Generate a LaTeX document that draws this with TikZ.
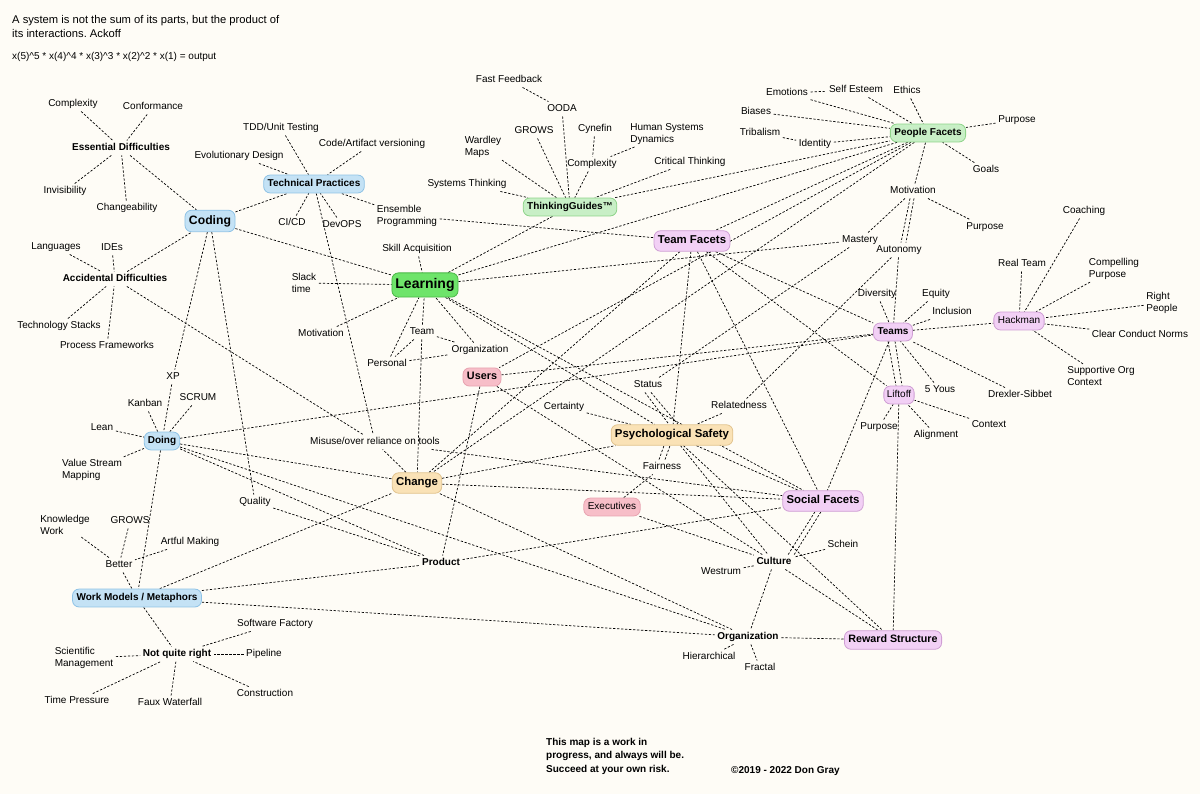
\documentclass[tikz,border=0pt]{standalone}
\usepackage{fontspec}
\setmainfont{Liberation Sans}
\frenchspacing
\definecolor{bgc}{RGB}{254,252,246}
\definecolor{bfill}{RGB}{196,226,245}
\definecolor{bdraw}{RGB}{143,195,230}
\definecolor{gfill}{RGB}{200,239,198}
\definecolor{gdraw}{RGB}{143,212,138}
\definecolor{lfill}{RGB}{110,228,106}
\definecolor{ldraw}{RGB}{75,184,71}
\definecolor{pfill}{RGB}{242,208,245}
\definecolor{pdraw}{RGB}{207,158,212}
\definecolor{rfill}{RGB}{247,190,200}
\definecolor{rdraw}{RGB}{232,163,176}
\definecolor{yfill}{RGB}{250,226,182}
\definecolor{ydraw}{RGB}{226,196,143}
\pgfdeclarelayer{edges}
\pgfdeclarelayer{background}
\pgfsetlayers{background,edges,main}
\begin{document}
\begin{tikzpicture}[x=1pt,y=-1pt,
  lbl/.style={font=\fontsize{10}{11.5}\selectfont, inner sep=2.5pt, align=left, text height=7.4pt, text depth=2.1pt},
  ml/.style={text height=, text depth=},
  blbl/.style={lbl, font=\fontsize{10}{11.5}\selectfont\bfseries},
  box/.style={rounded corners=6.5pt, line width=0.8pt, inner xsep=4pt, inner ysep=4.2pt, text height=7.4pt, text depth=2.1pt, font=\fontsize{10}{11.5}\selectfont\bfseries},
  big/.style={font=\fontsize{11.4}{13}\selectfont\bfseries, inner ysep=4.8pt, inner xsep=3.8pt, text height=8.4pt, text depth=2.5pt},
  bluebox/.style={box, fill=bfill, draw=bdraw},
  greenbox/.style={box, fill=gfill, draw=gdraw},
  pinkbox/.style={box, fill=pfill, draw=pdraw},
  redbox/.style={box, fill=rfill, draw=rdraw},
  yelbox/.style={box, fill=yfill, draw=ydraw},
  reg/.style={font=\fontsize{10}{11.5}\selectfont},
  ed/.style={draw=black, line width=0.7pt, dash pattern=on 2.3pt off 1.7pt}
]
\begin{pgfonlayer}{background}
\fill[bgc] (0,0) rectangle (1200,794);
\end{pgfonlayer}
\useasboundingbox (0,0) rectangle (1200,794);

% header and footer
\node[lbl, ml, anchor=north west, inner sep=0pt, font=\fontsize{11.2}{13.5}\selectfont] (hdr) at (12,15.5) {A system is not the sum of its parts, but the product of\\its interactions. Ackoff};
\node[lbl, anchor=west, inner sep=0pt] (formula) at (12,57) {x(5)\textasciicircum5 * x(4)\textasciicircum4 * x(3)\textasciicircum3 * x(2)\textasciicircum2 * x(1) = output};
\node[lbl, ml, anchor=north west, inner sep=0pt, font=\fontsize{10}{13.5}\selectfont\bfseries] (foot) at (546,738) {This map is a work in\\progress, and always will be.\\Succeed at your own risk.};
\node[blbl, anchor=west, inner sep=0pt] (copy) at (731,771) {©2019 - 2022 Don Gray};

% Coding cluster
\node[lbl] (cxa) at (73,104) {Complexity};
\node[lbl] (conf) at (153,107) {Conformance};
\node[blbl] (ess) at (121,148) {Essential Difficulties};
\node[lbl] (invis) at (65,191) {Invisibility};
\node[lbl] (chg) at (127,208) {Changeability};
\node[bluebox, font=\fontsize{12.2}{14}\selectfont\bfseries, inner ysep=5pt, text height=8.9pt, text depth=2.6pt] (coding) at (210,221) {Coding};
\node[lbl] (lang) at (56,247) {Languages};
\node[lbl] (ides) at (112,248) {IDEs};
\node[blbl] (acc) at (115,279) {Accidental Difficulties};
\node[lbl] (techst) at (59,326) {Technology Stacks};
\node[lbl] (procfw) at (107,346) {Process Frameworks};
\node[lbl] (tdd) at (281,128) {TDD/Unit Testing};
\node[lbl] (cav) at (372,144) {Code/Artifact versioning};
\node[lbl] (evo) at (239,156) {Evolutionary Design};
\node[bluebox] (tp) at (314,184) {Technical Practices};
\node[lbl] (cicd) at (292,223) {CI/CD};
\node[lbl] (devops) at (342,225) {DevOPS};
\node[lbl, ml] (ens) at (407,216) {Ensemble\\Programming};

% Learning cluster
\node[lbl] (skill) at (417,249) {Skill Acquisition};
\node[lbl, ml] (slack) at (304,283) {Slack\\time};
\node[box, fill=lfill, draw=ldraw, font=\fontsize{14}{16}\selectfont\bfseries, inner ysep=5.5pt, inner xsep=3.5pt, text height=10.2pt, text depth=3pt] (learning) at (425,285) {Learning};
\node[lbl] (motA) at (321,334) {Motivation};
\node[lbl] (team) at (422,332) {Team};
\node[lbl] (orgA) at (480,350) {Organization};
\node[lbl] (personal) at (387,364) {Personal};
\node[redbox, font=\fontsize{10.8}{12.5}\selectfont\bfseries, inner ysep=4.3pt] (users) at (482,377) {Users};

% Thinking guides
\node[lbl] (ff) at (509,80) {Fast Feedback};
\node[lbl] (ooda) at (562,109) {OODA};
\node[lbl] (growsA) at (534,131) {GROWS};
\node[lbl] (cyn) at (595,129) {Cynefin};
\node[lbl, ml] (hsd) at (667,134) {Human Systems\\Dynamics};
\node[lbl, ml] (wardley) at (483,147) {Wardley\\Maps};
\node[lbl] (cxb) at (592,164) {Complexity};
\node[lbl] (crit) at (690,162) {Critical Thinking};
\node[lbl] (systh) at (467,184) {Systems Thinking};
\node[greenbox] (tg) at (570,207) {ThinkingGuides™};
\node[pinkbox, big] (tf) at (692,241) {Team Facets};

% People facets
\node[lbl] (emo) at (787,93) {Emotions};
\node[lbl] (selfe) at (856,90) {Self Esteem};
\node[lbl] (ethics) at (907,91) {Ethics};
\node[lbl] (biases) at (756,112) {Biases};
\node[lbl] (trib) at (760,133) {Tribalism};
\node[lbl] (ident) at (815,144) {Identity};
\node[greenbox] (pf) at (928,133) {People Facets};
\node[lbl] (purA) at (1017,120) {Purpose};
\node[lbl] (goals) at (986,170) {Goals};
\node[lbl] (motB) at (913,191) {Motivation};
\node[lbl] (purB) at (985,227) {Purpose};
\node[lbl] (mastery) at (860,240) {Mastery};
\node[lbl] (auto) at (899,250) {Autonomy};

% Hackman / Teams
\node[lbl] (coach) at (1084,211) {Coaching};
\node[lbl] (realt) at (1022,264) {Real Team};
\node[lbl, ml] (compel) at (1114,269) {Compelling\\Purpose};
\node[lbl, ml] (rightp) at (1162,303) {Right\\People};
\node[lbl] (divers) at (877,294) {Diversity};
\node[lbl] (equity) at (936,294) {Equity};
\node[lbl] (incl) at (952,312) {Inclusion};
\node[pinkbox] (teams) at (893,332) {Teams};
\node[pinkbox, reg] (hack) at (1019,321) {Hackman};
\node[lbl] (clear) at (1140,335) {Clear Conduct Norms};
\node[lbl, ml] (supp) at (1101,376) {Supportive Org\\Context};
\node[lbl] (yous) at (940,390) {5 Yous};
\node[lbl] (dx) at (1020,395) {Drexler-Sibbet};
\node[pinkbox, reg, inner xsep=3pt] (liftoff) at (899,395) {Liftoff};
\node[lbl] (purC) at (879,427) {Purpose};
\node[lbl] (align) at (936,435) {Alignment};
\node[lbl] (context) at (989,425) {Context};

% Doing
\node[lbl] (xp) at (173,377) {XP};
\node[lbl] (kanban) at (145,404) {Kanban};
\node[lbl] (scrum) at (198,398) {SCRUM};
\node[lbl] (lean) at (102,428) {Lean};
\node[bluebox, inner xsep=3.5pt] (doing) at (162,441) {Doing};
\node[lbl, ml] (vsm) at (92,470) {Value Stream\\Mapping};

% Psychological safety area
\node[lbl] (status) at (648,385) {Status};
\node[lbl] (relat) at (739,406) {Relatedness};
\node[lbl] (cert) at (564,407) {Certainty};
\node[yelbox, big] (ps) at (672,435) {Psychological Safety};
\node[lbl] (misuse) at (375,442) {Misuse/over reliance on tools};
\node[lbl] (fair) at (662,467) {Fairness};
\node[yelbox, big] (change) at (417,483) {Change};
\node[redbox, reg] (exec) at (612,507) {Executives};
\node[pinkbox, big] (sf) at (823,501) {Social Facets};
\node[lbl] (quality) at (255,502) {Quality};

% bottom left
\node[lbl, ml] (kw) at (65,525) {Knowledge\\Work};
\node[lbl] (growsB) at (130,521) {GROWS};
\node[lbl] (artful) at (190,542) {Artful Making};
\node[lbl] (better) at (119,565) {Better};
\node[blbl] (product) at (441,563) {Product};
\node[lbl] (schein) at (843,545) {Schein};
\node[blbl] (culture) at (774,562) {Culture};
\node[lbl] (westrum) at (721,572) {Westrum};
\node[bluebox] (wm) at (137,598) {Work Models / Metaphors};
\node[lbl] (sfac) at (275,624) {Software Factory};
\node[lbl, ml] (sci) at (84,658) {Scientific\\Management};
\node[blbl] (nqr) at (177,654) {Not quite right};
\node[lbl] (pipe) at (264,654) {Pipeline};
\node[blbl] (orgB) at (748,637) {Organization};
\node[pinkbox, font=\fontsize{10.7}{12.5}\selectfont\bfseries, inner ysep=4.5pt] (reward) at (893,640) {Reward Structure};
\node[lbl] (hier) at (709,657) {Hierarchical};
\node[lbl] (fractal) at (760,668) {Fractal};
\node[lbl] (timep) at (77,701) {Time Pressure};
\node[lbl] (faux) at (170,703) {Faux Waterfall};
\node[lbl] (constr) at (265,694) {Construction};

\begin{pgfonlayer}{edges}
% coding
\foreach \a in {cxa,conf,invis,chg} \draw[ed] (\a) -- (ess);
\draw[ed] (ess) -- (coding);
\foreach \a in {lang,ides,techst,procfw} \draw[ed] (\a) -- (acc);
\draw[ed] (acc) -- (coding);
\draw[ed] (acc) -- (misuse);
\draw[ed] (coding) -- (tp);
\draw[ed] (coding) -- (learning);
\draw[ed] (coding) -- (xp);
\draw[ed] (coding) -- (quality);
\foreach \a in {tdd,cav,evo,cicd,devops,ens} \draw[ed] (\a) -- (tp);
\draw[ed] (tp) -- (misuse);
\draw[ed] (ens) -- (tf);
% doing
\foreach \a in {xp,kanban,scrum,lean,vsm} \draw[ed] (\a) -- (doing);
\draw[ed] (doing) -- (teams);
\draw[ed] (doing) -- (change);
\draw[ed] (doing) -- (orgB);
\draw[ed] (doing) -- (product);
\draw[ed] (doing) -- (wm);
\draw[ed] (quality) -- (product);
\foreach \a in {kw,growsB,artful} \draw[ed] (\a) -- (better);
\draw[ed] (better) -- (wm);
\draw[ed] (wm) -- (nqr);
\foreach \a in {sfac,pipe,constr,faux,timep,sci} \draw[ed] (\a) -- (nqr);
\draw[ed] (wm) -- (change);
\draw[ed] (wm) -- (product);
\draw[ed] (wm) -- (orgB);
% learning
\foreach \a in {skill,slack,motA,team,personal,orgA} \draw[ed] (\a) -- (learning);
\draw[ed] (team) -- (personal);
\draw[ed] (team) -- (orgA);
\draw[ed] (personal) -- (orgA);
\draw[ed] (team) -- (change);
\draw[ed] (learning) -- (tg);
\draw[ed] (learning) -- (pf);
\draw[ed] (learning) -- (mastery);
\draw[ed] (learning) -- (ps);
\draw[ed] (learning) -- (sf);
% thinking guides
\draw[ed] (ff) -- (ooda);
\foreach \a in {ooda,growsA,cxb,wardley,systh,crit} \draw[ed] (\a) -- (tg);
\draw[ed] (cyn) -- (cxb);
\draw[ed] (hsd) -- (cxb);
\draw[ed] (tg) -- (pf);
% people facets
\draw[ed] (emo) -- (selfe);
\foreach \a in {emo,selfe,ethics,biases,ident,purA,goals,motB} \draw[ed] (\a) -- (pf);
\draw[ed] (trib) -- (ident);
\draw[ed] (pf) -- (tf);
\draw[ed] (pf) -- (users);
\draw[ed] (pf) -- (change);
\draw[ed] (motB) -- (purB);
\draw[ed] (motB) -- (mastery);
\draw[ed] ([xshift=-3pt]motB.south) -- ([xshift=2pt]auto.north);
\draw[ed] ([xshift=1pt]motB.south) -- ([xshift=7pt]auto.north);
\draw[ed] (auto) -- (teams);
\draw[ed] (mastery) -- (status);
\draw[ed] (auto) -- (relat);
% team facets
\draw[ed] (tf) -- (teams);
\draw[ed] (tf) -- (liftoff);
\draw[ed] (tf) -- (sf);
\draw[ed] (tf) -- (ps);
\draw[ed] (tf) -- (change);
% teams
\foreach \a in {divers,equity,incl,yous,dx} \draw[ed] (\a) -- (teams);
\draw[ed] (teams) -- (hack);
\draw[ed] ([xshift=-5pt]teams.south) -- ([xshift=-3pt]liftoff.north);
\draw[ed] ([xshift=2pt]teams.south) -- ([xshift=3pt]liftoff.north);
\draw[ed] (teams) -- (sf);
\draw[ed] (users) -- (teams);
\foreach \a in {coach,realt,compel,rightp,clear,supp} \draw[ed] (\a) -- (hack);
\foreach \a in {purC,align,context} \draw[ed] (\a) -- (liftoff);
\draw[ed] (liftoff) -- (reward);
% users / psych safety
\draw[ed] (users) -- (culture);
\draw[ed] (users) -- (product);
\draw[ed] ([xshift=-3pt]status.south) -- ([xshift=-3pt]ps.north);
\draw[ed] ([xshift=3pt]status.south) -- ([xshift=6pt]ps.north);
\draw[ed] (cert) -- (ps);
\draw[ed] (relat) -- (ps);
\draw[ed] ([xshift=-3pt]fair.north) -- ([xshift=-8pt]ps.south);
\draw[ed] ([xshift=3pt]fair.north) -- ([xshift=-2pt]ps.south);
\draw[ed] (exec) -- (fair);
\draw[ed] (exec) -- (culture);
\draw[ed] (change) -- (misuse);
\draw[ed] (change) -- (ps);
\draw[ed] (change) -- (sf);
\draw[ed] (change) -- (orgB);
\draw[ed] (misuse) -- (sf);
\draw[ed] (ps) -- (sf);
\draw[ed] (ps) -- (culture);
\draw[ed] (ps) -- (reward);
\draw[ed] (product) -- (sf);
\draw[ed] ([xshift=-6pt]culture.north east) -- ([xshift=-8pt]sf.south);
\draw[ed] ([xshift=0pt]culture.north east) -- ([xshift=-2pt]sf.south);
\foreach \a in {schein,westrum} \draw[ed] (\a) -- (culture);
\draw[ed] (culture) -- (reward);
\draw[ed] (culture) -- (orgB);
\draw[ed] (orgB) -- (reward);
\draw[ed] (orgB) -- (hier);
\draw[ed] (orgB) -- (fractal);
\end{pgfonlayer}
\end{tikzpicture}
\end{document}
